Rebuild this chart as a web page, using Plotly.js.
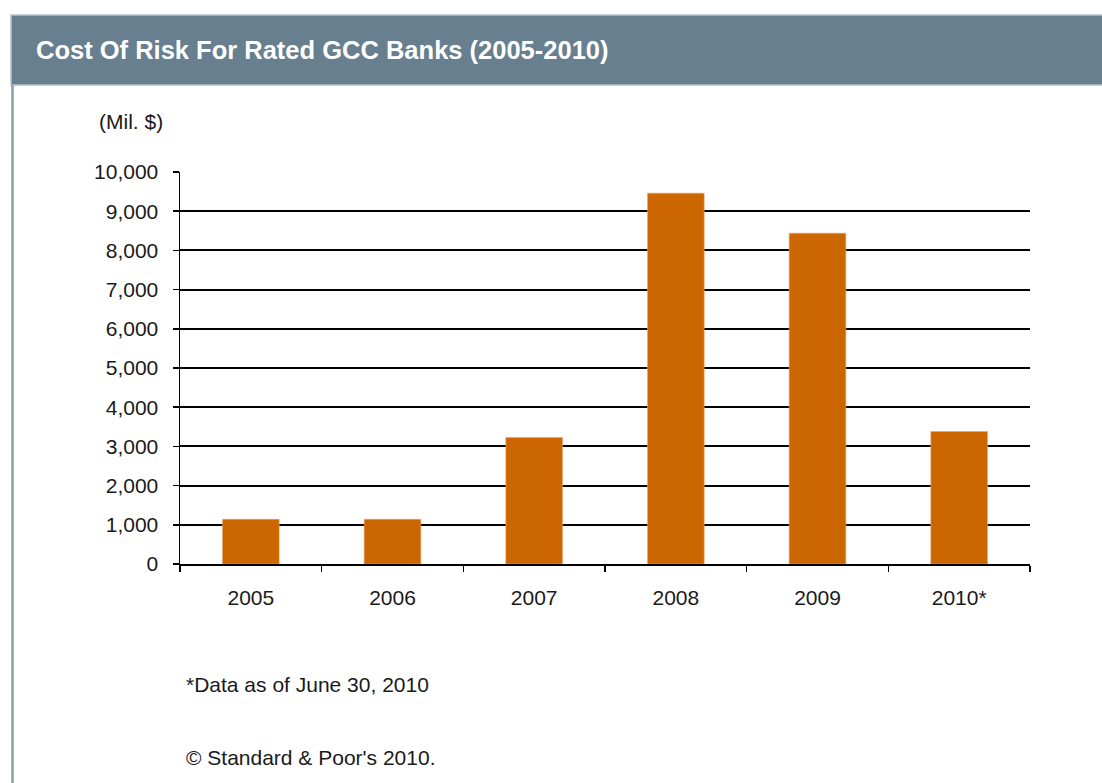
<!DOCTYPE html>
<html>
<head>
<meta charset="utf-8">
<script src="https://cdn.plot.ly/plotly-3.0.1.min.js"></script>
<style>html,body{margin:0;padding:0;background:#fff;}#chart{width:1102px;height:783px;}</style>
</head>
<body>
<div id="chart"></div>
<script>
// Data
const years = ["2005", "2006", "2007", "2008", "2009", "2010*"];
const costOfRisk = [1140, 1140, 3230, 9460, 8440, 3380];
const yTickVals = [0,1000,2000,3000,4000,5000,6000,7000,8000,9000,10000];
const titleText = "Cost Of Risk For Rated GCC Banks (2005-2010)";
const unitText = "(Mil. $)";
const footnote1 = "*Data as of June 30, 2010";
const footnote2 = "\u00A9 Standard & Poor's 2010.";

// Layout geometry (pixels)
const W = 1102, H = 783;
const L = 180, R = 1030, T = 172, B = 564;
const px = x => (x - L) / (R - L);
const py = y => (B - y) / (B - T);

const font = "Arial, 'Liberation Sans', sans-serif";
const FS = 21;

const trace = {
  type: "bar",
  x: years,
  y: costOfRisk,
  marker: {color: "#cc6600", line: {color: "#e9a46a", width: 0.6}},
  hoverinfo: "x+y"
};

const layout = {
  width: W, height: H,
  margin: {l: L, r: W - R, t: T, b: H - B, pad: 0},
  paper_bgcolor: "#ffffff",
  plot_bgcolor: "#ffffff",
  showlegend: false,
  bargap: 0.6,
  font: {family: font, size: FS, color: "#1a1a1a"},
  xaxis: {
    type: "category",
    showline: true, linecolor: "#000", linewidth: 1.5,
    ticks: "outside", ticklen: 6, tickcolor: "#000", tickwidth: 1.5,
    tickson: "boundaries",
    showgrid: false, zeroline: false,
    ticklabelstandoff: 14,
    tickfont: {family: font, size: FS, color: "#1a1a1a"}
  },
  yaxis: {
    range: [0, 10000],
    tickvals: yTickVals,
    tickformat: ",d",
    showline: true, linecolor: "#000", linewidth: 1.5,
    ticks: "outside", ticklen: 6, tickcolor: "#000", tickwidth: 1.5,
    showgrid: true, gridcolor: "#000", gridwidth: 2,
    zeroline: false,
    ticklabelstandoff: 10,
    tickfont: {family: font, size: FS, color: "#1a1a1a"}
  },
  shapes: [
    // header band
    {type: "rect", xref: "paper", yref: "paper", layer: "below",
     x0: px(11), x1: px(W + 5), y0: py(85), y1: py(15),
     fillcolor: "#677f8f", line: {color: "#b8c4cc", width: 1.5}},
    // left frame border
    {type: "line", xref: "paper", yref: "paper",
     x0: px(12.5), x1: px(12.5), y0: py(85), y1: py(H + 5),
     line: {color: "#8b9caa", width: 2.5}}
  ],
  annotations: [
    {text: titleText, xref: "paper", yref: "paper", x: px(34), y: py(50),
     xanchor: "left", yanchor: "middle", showarrow: false,
     font: {family: font, size: 25.5, color: "#ffffff", weight: "bold"}},
    {text: unitText, xref: "paper", yref: "paper", x: px(97), y: py(122),
     xanchor: "left", yanchor: "middle", showarrow: false,
     font: {family: font, size: FS, color: "#1a1a1a"}},
    {text: footnote1, xref: "paper", yref: "paper", x: px(184), y: py(684),
     xanchor: "left", yanchor: "middle", showarrow: false,
     font: {family: font, size: FS, color: "#1a1a1a"}},
    {text: footnote2, xref: "paper", yref: "paper", x: px(184), y: py(757),
     xanchor: "left", yanchor: "middle", showarrow: false,
     font: {family: font, size: FS, color: "#1a1a1a"}}
  ]
};

Plotly.newPlot("chart", [trace], layout, {displayModeBar: false, staticPlot: true});
</script>
</body>
</html>
